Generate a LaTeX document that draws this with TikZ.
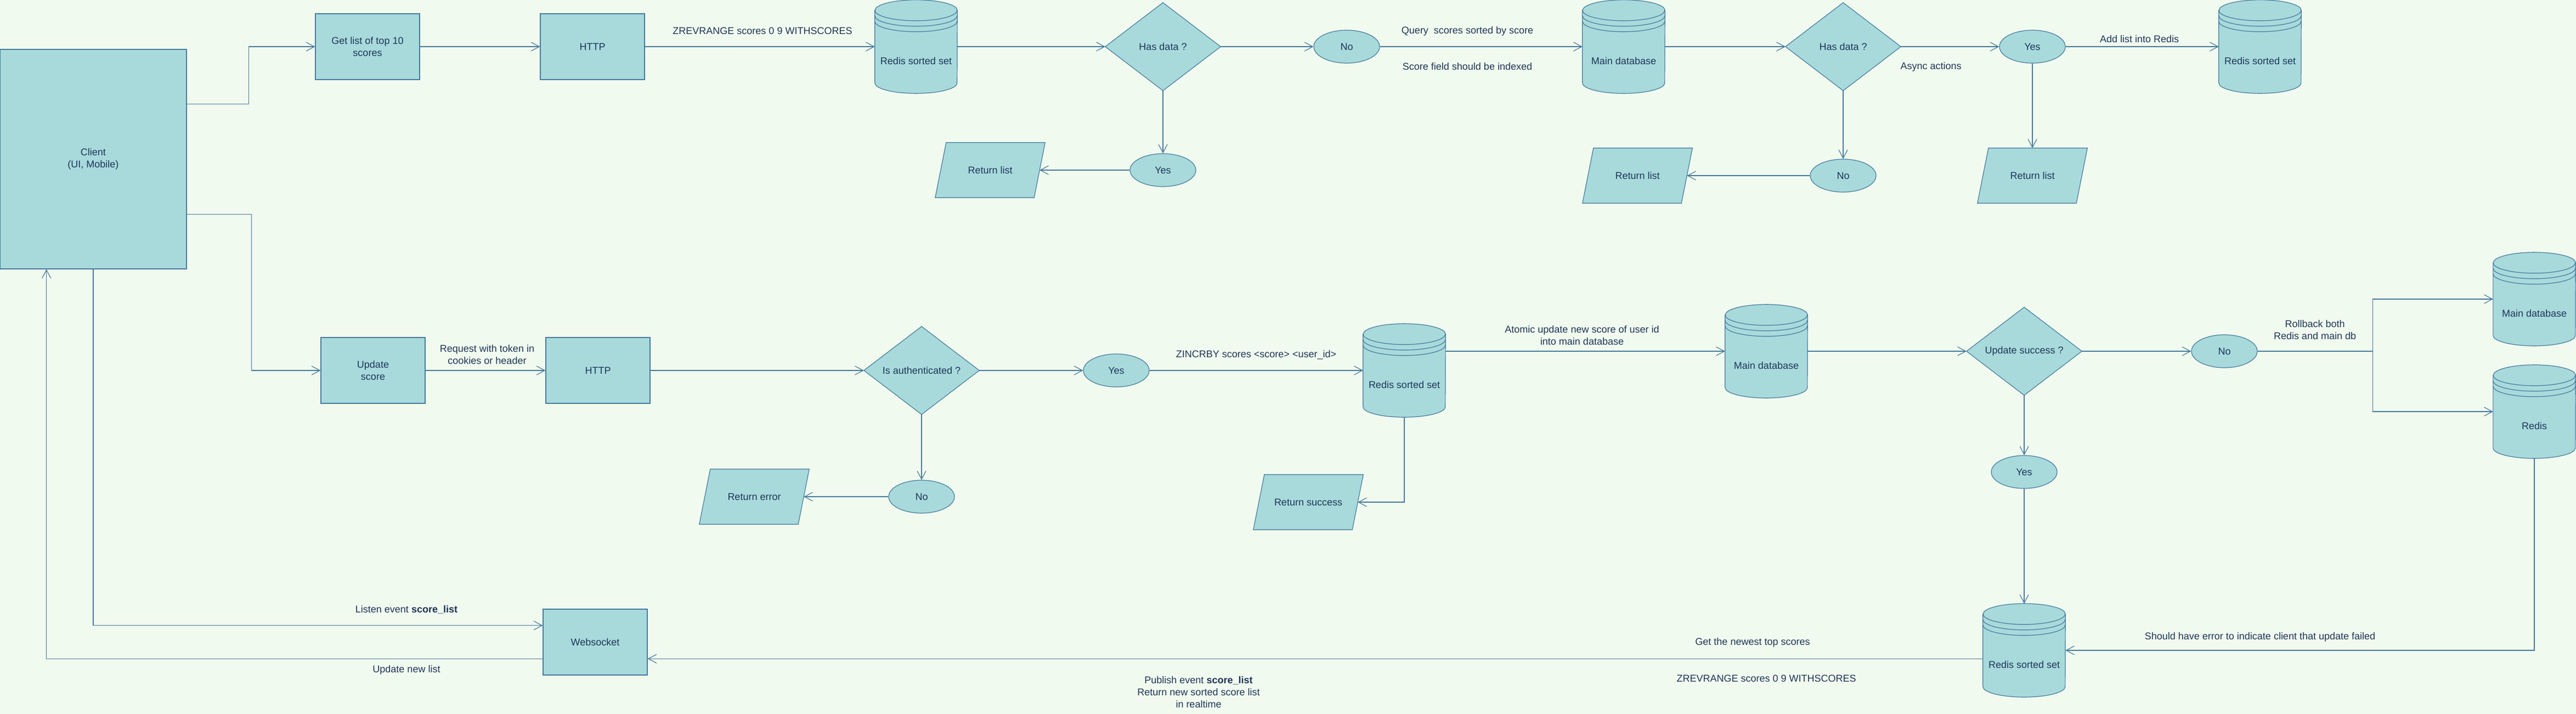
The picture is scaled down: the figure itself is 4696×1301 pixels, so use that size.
\documentclass[tikz,border=0pt]{standalone}
\usepackage{fontspec}
\setmainfont{Liberation Sans}
\usetikzlibrary{arrows.meta,calc,shapes.geometric}
\definecolor{bgc}{HTML}{F1FAEE}
\definecolor{fillc}{HTML}{A8DADC}
\definecolor{strokec}{HTML}{457B9D}
\definecolor{textc}{HTML}{1D3557}
\pgfdeclarelayer{back}
\pgfdeclarelayer{shapes}
\pgfsetlayers{back,shapes,main}
\newcommand\fs{\fontsize{18pt}{22pt}\selectfont}
\tikzset{
  shp/.style={fill=fillc, draw=strokec, line width=1.2pt},
  txt/.style={text=textc, font=\fs, align=center, inner sep=0pt},
  box/.style={shp, txt, rectangle, minimum width=190pt, minimum height=120pt},
  oval/.style={shp, txt, ellipse, minimum width=120pt, minimum height=60pt},
  ln/.style={draw=strokec, line width=1.2pt},
  arr/.style={ln, -{Straight Barb[length=15pt,width=16pt]}},
  lbl/.style={txt}
}
\newcommand\Diam[4]{%
  \node[txt, minimum width=210pt, minimum height=160pt] (#1) at (#2,#3) {#4};
  \begin{pgfonlayer}{shapes}
  \path[shp] (#1.north) -- (#1.east) -- (#1.south) -- (#1.west) -- cycle;
  \end{pgfonlayer}}
\newcommand\Para[4]{%
  \node[txt, minimum width=180pt, minimum height=100pt] (#1) at (#2,#3) {#4};
  \begin{pgfonlayer}{shapes}
  \path[shp] ($(#1.north west)+(10pt,0pt)$) -- ($(#1.north east)+(10pt,0pt)$)
     -- ($(#1.south east)+(-10pt,0pt)$) -- ($(#1.south west)+(-10pt,0pt)$) -- cycle;
  \end{pgfonlayer}}
\newcommand\Cyl[4]{%
  \node[txt, minimum width=150pt, minimum height=170pt,
        label={[txt, yshift=-26pt]center:#4}] (#1) at (#2,#3) {};
  \begin{pgfonlayer}{shapes}
  \path[shp] ($(#1.north west)+(0pt,-19pt)$) -- ($(#1.south west)+(0pt,19pt)$)
     arc[start angle=180,end angle=360,x radius=75pt,y radius=19pt]
     -- ($(#1.north east)+(0pt,-19pt)$)
     arc[start angle=0,end angle=180,x radius=75pt,y radius=19pt] -- cycle;
  \draw[strokec, line width=1.2pt]
     ($(#1.north west)+(0pt,-19pt)$) arc[start angle=180,end angle=360,x radius=75pt,y radius=19pt]
     ($(#1.north west)+(0pt,-29pt)$) arc[start angle=180,end angle=360,x radius=75pt,y radius=19pt]
     ($(#1.north west)+(0pt,-39pt)$) arc[start angle=180,end angle=360,x radius=75pt,y radius=19pt];
  \end{pgfonlayer}}
\begin{document}
\begin{tikzpicture}[x=1pt,y=-1pt]
\useasboundingbox (0,0) rectangle (4696,1301);
\begin{pgfonlayer}{back}
\fill[bgc] (0,0) rectangle (4696,1301);
\end{pgfonlayer}

% ---------- top row ----------
\node[box, minimum width=340pt, minimum height=400pt] (client) at (170,290) {Client\\(UI, Mobile)};
\node[box] (getlist) at (670,85) {Get list of top 10\\scores};
\node[box] (http1) at (1080,85) {HTTP};
\Cyl{db1}{1670}{85}{Redis sorted set}
\Diam{d1}{2120}{85}{Has data ?}
\node[oval] (no1) at (2455,85) {No};
\node[oval] (yes1) at (2120,310) {Yes};
\Para{rl1}{1805}{310}{Return list}
\Cyl{db2}{2960}{85}{Main database}
\Diam{d2}{3360}{85}{Has data ?}
\node[oval] (yes2) at (3705,85) {Yes};
\node[oval] (no2) at (3360,320) {No};
\Para{rl2}{2985}{320}{Return list}
\Para{rl3}{3705}{320}{Return list}
\Cyl{db3}{4120}{85}{Redis sorted set}

% ---------- middle row ----------
\node[box] (upd) at (680,675) {Update\\score};
\node[box] (http2) at (1090,675) {HTTP};
\Diam{d3}{1680}{675}{Is authenticated ?}
\node[oval] (yes3) at (2035,675) {Yes};
\node[oval] (no3) at (1680,905) {No};
\Para{re}{1375}{905}{Return error}
\Cyl{db4}{2560}{675}{Redis sorted set}
\Para{rs}{2385}{915}{Return success}
\Cyl{db5}{3220}{640}{Main database}
\Diam{d4}{3690}{640}{Update success ?}
\node[oval] (no4) at (4055,640) {No};
\node[oval] (yes4) at (3690,860) {Yes};
\Cyl{db6}{4620}{545}{Main database}
\Cyl{db7}{4620}{750}{Redis}

% ---------- bottom row ----------
\node[box] (ws) at (1085,1170) {Websocket};
\Cyl{db8}{3690}{1185}{Redis sorted set}

% ---------- connectors (top) ----------
\draw[arr] ($(client.north east)!0.25!(client.south east)$) -- ++(113,0) |- (getlist.west);
\draw[arr] (getlist.east) -- (http1.west);
\draw[arr] (http1.east) -- (db1.west);
\draw[arr] (db1.east) -- (d1.west);
\draw[arr] (d1.east) -- (no1.west);
\draw[arr] (no1.east) -- (db2.west);
\draw[arr] (d1.south) -- (yes1.north);
\draw[arr] (yes1.west) -- (rl1.east);
\draw[arr] (db2.east) -- (d2.west);
\draw[arr] (d2.east) -- (yes2.west);
\draw[arr] (yes2.east) -- (db3.west);
\draw[arr] (d2.south) -- (no2.north);
\draw[arr] (no2.west) -- (rl2.east);
\draw[arr] (yes2.south) -- (rl3.north);

\node[lbl] (t1) at (1390,56) {ZREVRANGE scores 0 9 WITHSCORES};
\node[lbl] (t2) at (2675,57) {Query~ scores sorted by score};
\node[lbl] (t3) at (2675,121) {Score field should be indexed};
\node[lbl] (t4) at (3520,122) {Async actions};
\node[lbl] (t5) at (3900,71) {Add list into Redis};

% ---------- connectors (middle) ----------
\draw[arr] ($(client.north east)!0.75!(client.south east)$) -- ++(118,0) |- (upd.west);
\draw[arr] (upd.east) -- (http2.west);
\draw[arr] (http2.east) -- (d3.west);
\draw[arr] (d3.east) -- (yes3.west);
\draw[arr] (yes3.east) -- (db4.west);
\draw[arr] (d3.south) -- (no3.north);
\draw[arr] (no3.west) -- (re.east);
\draw[arr] (db5.west -| db4.east) -- (db5.west);
\draw[arr] (db4.south) |- (rs.east);
\draw[arr] (db5.east) -- (d4.west);
\draw[arr] (d4.east) -- (no4.west);
\coordinate (split) at ($(no4.east)+(210pt,0pt)$);
\draw[ln] (no4.east) -- (split);
\draw[arr] (split) |- (db6.west);
\draw[arr] (split) |- (db7.west);
\draw[arr] (d4.south) -- (yes4.north);
\draw[arr] (yes4.south) -- (db8.north);
\draw[arr] (db7.south) |- (db8.east);

\node[lbl] (t6) at (888,646) {Request with token in\\cookies or header};
\node[lbl] (t7) at (2290,647) {ZINCRBY scores <score> <user\_id>};
\node[lbl] (t8) at (2884,611) {Atomic update new score of user id\\into main database};
\node[lbl] (t9) at (4220,601) {Rollback both\\Redis and main db};
\node[lbl] (t10) at (4120,1161) {Should have error to indicate client that update failed};

% ---------- connectors (bottom) ----------
\coordinate (wsin) at ($(ws.north east)!0.75!(ws.south east)$);
\coordinate (wsout) at ($(ws.north west)!0.75!(ws.south west)$);
\coordinate (wslisten) at ($(ws.north west)!0.25!(ws.south west)$);
\coordinate (clin) at ($(client.south west)!0.25!(client.south east)$);
\draw[arr] (db8.west |- wsin) -- (wsin);
\draw[arr] (client.south) |- (wslisten);
\draw[arr] (wsout) -| (clin);

\node[lbl] (t11) at (3195,1171) {Get the newest top scores};
\node[lbl] (t12) at (3220,1236) {ZREVRANGE scores 0 9 WITHSCORES};
\node[lbl] (t13) at (2185,1261) {Publish event \textbf{score\_list}\\Return new sorted score list\\in realtime};
\node[lbl] (t14) at (741,1111) {Listen event \textbf{score\_list}};
\node[lbl] (t15) at (741,1221) {Update new list};
\end{tikzpicture}
\end{document}
